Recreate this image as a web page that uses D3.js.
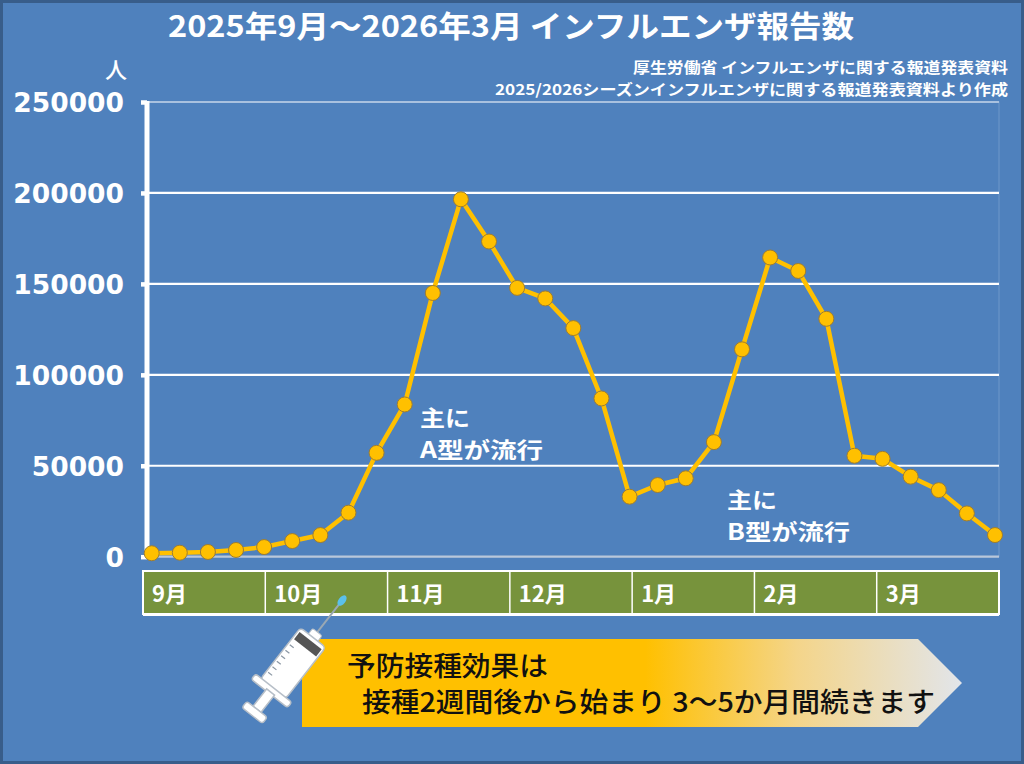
<!DOCTYPE html>
<html>
<head>
<meta charset="utf-8">
<script src="https://cdn.jsdelivr.net/npm/d3@7"></script>
<style>
  body { margin: 0; background: #fff; }
  svg { display: block; }
</style>
</head>
<body>
<div class="canva"></div>
<script>
// weekly influenza reports, Sep 2025 - Mar 2026
const weekIndex = d3.range(31);
const reports = [1900, 2200, 2600, 3700, 5300, 8600, 11900, 24200, 57100, 83700,
                 145000, 196500, 173300, 147800, 142000, 125700, 87000, 33000, 39400, 43100,
                 63000, 114000, 164500, 157100, 130800, 55500, 53800, 44000, 36600, 23800, 11900];
const months = ["9月", "10月", "11月", "12月", "1月", "2月", "3月"];
const yTicks = [0, 50000, 100000, 150000, 200000, 250000];

const titleText = "2025年9月～2026年3月  インフルエンザ報告数";
const sourceLines = ["厚生労働省  インフルエンザに関する報道発表資料",
                     "2025/2026シーズンインフルエンザに関する報道発表資料より作成"];
const noteA = ["主に", "A型が流行"];
const noteB = ["主に", "B型が流行"];
const arrowLines = ["予防接種効果は", "接種2週間後から始まり  3～5か月間続きます"];

const W = 1024, H = 764;
const jp = "'Noto Sans CJK JP', 'Noto Sans', sans-serif";

const canvas = d3.select(".canva");
const svg = canvas.append("svg")
    .attr("width", W)
    .attr("height", H);

// background + frame
svg.append("rect")
    .attr("x", 1.5).attr("y", 1.5)
    .attr("width", W - 3).attr("height", H - 3)
    .attr("fill", "#4f81bd")
    .attr("stroke", "#385d8a")
    .attr("stroke-width", 3);

// title
svg.append("text")
    .text(titleText)
    .attr("x", 168).attr("y", 37)
    .attr("textLength", 686)
    .attr("lengthAdjust", "spacingAndGlyphs")
    .attr("fill", "white")
    .attr("font-family", jp)
    .attr("font-weight", 700)
    .attr("font-size", 30);

const srcWidths = [375, 513];
svg.selectAll(".src")
    .data(sourceLines)
    .join("text")
    .attr("class", "src")
    .text(d => d)
    .attr("x", (d, i) => 1008 - srcWidths[i])
    .attr("y", (d, i) => 73 + i * 22)
    .attr("textLength", (d, i) => srcWidths[i])
    .attr("lengthAdjust", "spacingAndGlyphs")
    .attr("fill", "white")
    .attr("font-family", jp)
    .attr("font-weight", 700)
    .attr("font-size", 15);

// scales
const x = d3.scaleLinear().domain([0, 30]).range([151.7, 995]);
const y = d3.scaleLinear().domain([0, 250000]).range([556.7, 102]);
const plotLeft = 147, plotRight = 999;

// plot border (faint)
svg.append("rect")
    .attr("x", plotLeft).attr("y", y(250000))
    .attr("width", plotRight - plotLeft).attr("height", y(0) - y(250000))
    .attr("fill", "none")
    .attr("stroke", "#6f97c9")
    .attr("stroke-width", 1);

// gridlines
svg.append("g")
    .selectAll("line")
    .data(yTicks)
    .join("line")
    .attr("x1", plotLeft).attr("x2", plotRight)
    .attr("y1", d => y(d)).attr("y2", d => y(d))
    .attr("stroke", d => (d === 0 ? "#b9c7da" : d === 250000 ? "#a9c1df" : "white"))
    .attr("stroke-width", 2.2);

// y axis
const yAxis = svg.append("g")
    .attr("transform", `translate(${plotLeft},0)`)
    .call(d3.axisLeft(y).tickValues(yTicks).tickSize(6).tickPadding(17).tickFormat(d3.format("d")));
yAxis.select(".domain")
    .attr("stroke", "white")
    .attr("stroke-width", 5)
    .attr("d", `M0,${y(250000) - 1}V${y(0) + 1}`);
yAxis.selectAll(".tick line")
    .attr("stroke", "white")
    .attr("stroke-width", 4.5);
yAxis.selectAll(".tick text")
    .attr("fill", "white")
    .attr("font-family", "'DejaVu Sans', sans-serif")
    .attr("font-weight", 700)
    .attr("font-size", 26.5)
    .attr("dy", "0.36em");

svg.append("text")
    .text("人")
    .attr("x", 127).attr("y", 78)
    .attr("text-anchor", "end")
    .attr("fill", "white")
    .attr("font-family", jp)
    .attr("font-weight", 500)
    .attr("font-size", 22);

// line + markers
const line = d3.line()
    .x(i => x(i))
    .y(i => y(reports[i]));

svg.append("path")
    .datum(weekIndex)
    .attr("d", line)
    .attr("fill", "none")
    .attr("stroke", "#ffc000")
    .attr("stroke-width", 4.5)
    .attr("stroke-linejoin", "round");

svg.append("g")
    .selectAll("circle")
    .data(weekIndex)
    .join("circle")
    .attr("cx", i => x(i))
    .attr("cy", i => y(reports[i]))
    .attr("r", 7.5)
    .attr("fill", "#ffc000")
    .attr("stroke", "#9c7c33")
    .attr("stroke-width", 1);

// annotations
const noteWidths = [50, 123];
function note(lines, nx, ny) {
    svg.append("g")
        .selectAll("text")
        .data(lines)
        .join("text")
        .text(d => d)
        .attr("x", nx)
        .attr("y", (d, i) => ny + i * 32)
        .attr("textLength", (d, i) => noteWidths[i])
        .attr("lengthAdjust", "spacingAndGlyphs")
        .attr("fill", "white")
        .attr("font-family", jp)
        .attr("font-weight", 700)
        .attr("font-size", 22);
}
note(noteA, 420, 426);
note(noteB, 727, 508);

// month bar
const mx = d3.scaleBand().domain(months).range([143, 999]);
const bar = svg.append("g");
bar.append("rect")
    .attr("x", 143).attr("y", 571)
    .attr("width", 999 - 143).attr("height", 43)
    .attr("fill", "#77933c")
    .attr("stroke", "white")
    .attr("stroke-width", 2);
bar.selectAll("line")
    .data(months.slice(1))
    .join("line")
    .attr("x1", d => mx(d)).attr("x2", d => mx(d))
    .attr("y1", 571).attr("y2", 614)
    .attr("stroke", "white")
    .attr("stroke-width", 1.5);
bar.selectAll("text")
    .data(months)
    .join("text")
    .text(d => d)
    .attr("x", d => mx(d) + 9)
    .attr("y", 602)
    .attr("fill", "white")
    .attr("font-family", jp)
    .attr("font-weight", 700)
    .attr("font-size", 22);
// white shadow line under bar
bar.append("line")
    .attr("x1", 143).attr("x2", 999)
    .attr("y1", 615).attr("y2", 615)
    .attr("stroke", "white")
    .attr("stroke-width", 2);

// arrow with gradient
const defs = svg.append("defs");
const grad = defs.append("linearGradient")
    .attr("id", "arrowGrad")
    .attr("x1", "0%").attr("x2", "100%")
    .attr("y1", "0%").attr("y2", "0%");
grad.append("stop").attr("offset", "0%").attr("stop-color", "#ffc000");
grad.append("stop").attr("offset", "52%").attr("stop-color", "#ffc000");
grad.append("stop").attr("offset", "75%").attr("stop-color", "#f4d58a");
grad.append("stop").attr("offset", "100%").attr("stop-color", "#e2e5ea");

svg.append("path")
    .attr("d", "M302,639 L918,639 L962,683 L918,727 L302,727 Z")
    .attr("fill", "url(#arrowGrad)");

const arrowWidths = [201, 573];
svg.append("g")
    .selectAll("text")
    .data(arrowLines)
    .join("text")
    .text(d => d)
    .attr("x", (d, i) => (i === 0 ? 347 : 362))
    .attr("y", (d, i) => 676 + i * 36)
    .attr("textLength", (d, i) => arrowWidths[i])
    .attr("lengthAdjust", "spacingAndGlyphs")
    .attr("fill", "#111")
    .attr("font-family", jp)
    .attr("font-weight", 500)
    .attr("font-size", 27);

// syringe
const syr = svg.append("g")
    .attr("transform", "translate(294,662) rotate(-52)");
// needle
syr.append("line")
    .attr("x1", 36).attr("x2", 76).attr("y1", 0).attr("y2", 0)
    .attr("stroke", "#9aa8b4").attr("stroke-width", 2);
syr.append("ellipse")
    .attr("cx", 78).attr("cy", 0).attr("rx", 6).attr("ry", 3.5)
    .attr("fill", "#5bc0eb");
// hub
syr.append("rect")
    .attr("x", 30).attr("y", -6).attr("width", 8).attr("height", 12)
    .attr("rx", 2).attr("fill", "white").attr("stroke", "#b7bfc8");
// barrel
syr.append("rect")
    .attr("x", -34).attr("y", -16).attr("width", 65).attr("height", 32)
    .attr("rx", 4).attr("fill", "white").attr("stroke", "#b7bfc8").attr("stroke-width", 1.5);
syr.append("rect")
    .attr("x", 18).attr("y", -14).attr("width", 9).attr("height", 28)
    .attr("fill", "#555");
syr.selectAll(".scale")
    .data(d3.range(6))
    .join("line")
    .attr("x1", i => -24 + i * 7).attr("x2", i => -24 + i * 7)
    .attr("y1", -14).attr("y2", -9)
    .attr("stroke", "#8a96a3").attr("stroke-width", 1.2);
// flange
syr.append("rect")
    .attr("x", -40).attr("y", -23).attr("width", 7).attr("height", 46)
    .attr("rx", 3).attr("fill", "white").attr("stroke", "#b7bfc8").attr("stroke-width", 1.5);
// plunger rod
syr.append("rect")
    .attr("x", -60).attr("y", -5).attr("width", 22).attr("height", 10)
    .attr("fill", "white").attr("stroke", "#b7bfc8").attr("stroke-width", 1.5);
syr.append("rect")
    .attr("x", -68).attr("y", -13).attr("width", 8).attr("height", 26)
    .attr("rx", 3).attr("fill", "white").attr("stroke", "#b7bfc8").attr("stroke-width", 1.5);
</script>
</body>
</html>
